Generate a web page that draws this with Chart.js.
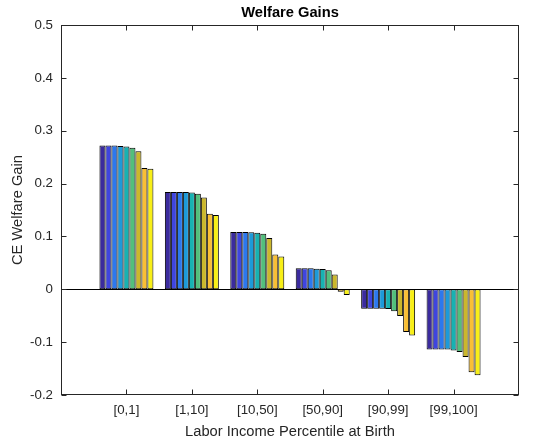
<!DOCTYPE html>
<html>
<head>
<meta charset="utf-8">
<title>Welfare Gains</title>
<script src="https://cdn.jsdelivr.net/npm/chart.js@4.4.1/dist/chart.umd.min.js"></script>
<style>
  html, body { margin: 0; padding: 0; background: #fff; }
  #chart { display: block; }
</style>
</head>
<body>
<canvas id="chart" width="534" height="443"></canvas>
<script>
// categories (income percentile bins at birth)
const categories = ['[0,1]', '[1,10]', '[10,50]', '[50,90]', '[90,99]', '[99,100]'];

// one array per bar in each group
const series1 = [0.272, 0.184, 0.1085, 0.0397, -0.037, -0.114];
const series2 = [0.272, 0.184, 0.1085, 0.0397, -0.037, -0.114];
const series3 = [0.272, 0.184, 0.1085, 0.0397, -0.037, -0.114];
const series4 = [0.271, 0.184, 0.108, 0.039, -0.037, -0.114];
const series5 = [0.270, 0.183, 0.107, 0.0385, -0.0375, -0.116];
const series6 = [0.268, 0.181, 0.105, 0.036, -0.0416, -0.1186];
const series7 = [0.261, 0.1735, 0.097, 0.028, -0.0505, -0.128];
const series8 = [0.2295, 0.143, 0.066, -0.0045, -0.0807, -0.157];
const series9 = [0.228, 0.1406, 0.062, -0.011, -0.0876, -0.1627];

const yTicks = [-0.2, -0.1, 0, 0.1, 0.2, 0.3, 0.4, 0.5];

// parula-like colours
const barColors = ['#3b2b9e', '#3f45df', '#2c78ee', '#1d9ad9', '#17b2b2', '#52bf7c', '#cbb72c', '#f9bf35', '#f8ef17'];

const allSeries = [series1, series2, series3, series4, series5, series6, series7, series8, series9];

const axisColor = '#262626';
const fontFamily = '"Liberation Sans", Arial, Helvetica, sans-serif';

// draws the MATLAB style box, inward ticks and the zero baseline
const matlabAxes = {
    id: 'matlabAxes',
    afterDatasetsDraw(chart) {
        const { ctx, chartArea: a, scales: { x, y } } = chart;
        ctx.save();
        ctx.lineWidth = 1;

        // baseline
        const y0 = Math.round(y.getPixelForValue(0)) + 0.5;
        ctx.strokeStyle = '#000';
        ctx.beginPath();
        ctx.moveTo(a.left, y0);
        ctx.lineTo(a.right, y0);
        ctx.stroke();

        ctx.strokeStyle = axisColor;
        const l = Math.round(a.left) + 0.5, r = Math.round(a.right) - 0.5;
        const t = Math.round(a.top) + 0.5, b = Math.round(a.bottom) - 0.5;
        ctx.strokeRect(l, t, r - l, b - t);

        const len = 5;
        ctx.beginPath();
        x.ticks.forEach(tk => {
            const px = Math.round(x.getPixelForValue(tk.value)) + 0.5;
            ctx.moveTo(px, b); ctx.lineTo(px, b - len);
            ctx.moveTo(px, t); ctx.lineTo(px, t + len);
        });
        y.ticks.forEach(tk => {
            const py = Math.round(y.getPixelForValue(tk.value)) + 0.5;
            ctx.moveTo(l, py); ctx.lineTo(l + len, py);
            ctx.moveTo(r, py); ctx.lineTo(r - len, py);
        });
        ctx.stroke();
        ctx.restore();
    }
};

const ctx = document.getElementById('chart').getContext('2d');

new Chart(ctx, {
    type: 'bar',
    data: {
        datasets: allSeries.map((s, i) => ({
            label: 'Series ' + (i + 1),
            data: s.map((v, j) => ({ x: j + 1, y: v })),
            backgroundColor: barColors[i],
            borderColor: '#000',
            borderWidth: 1,
            borderSkipped: false,
            categoryPercentage: 0.825,
            barPercentage: 1
        }))
    },
    options: {
        responsive: false,
        animation: false,
        layout: {
            padding: { left: 0, right: 15, top: 0, bottom: 0 }
        },
        scales: {
            x: {
                type: 'linear',
                min: 0,
                max: 7,
                offset: false,
                grid: { display: false, drawTicks: false },
                border: { display: false },
                afterBuildTicks: (scale) => {
                    scale.ticks = categories.map((c, i) => ({ value: i + 1 }));
                },
                afterFit: (scale) => { scale.height = 48; },
                ticks: {
                    autoSkip: false,
                    maxRotation: 0,
                    padding: 7,
                    color: axisColor,
                    font: { family: fontFamily, size: 13.3 },
                    callback: (value) => categories[value - 1]
                },
                title: {
                    display: true,
                    text: 'Labor Income Percentile at Birth',
                    color: axisColor,
                    font: { family: fontFamily, size: 14.7 },
                    padding: { top: 0, bottom: 2 }
                }
            },
            y: {
                min: -0.2,
                max: 0.5,
                grid: { display: false, drawTicks: false },
                border: { display: false },
                afterBuildTicks: (scale) => {
                    scale.ticks = yTicks.map(v => ({ value: v }));
                },
                afterFit: (scale) => { scale.width = 61; },
                ticks: {
                    padding: 8,
                    color: axisColor,
                    font: { family: fontFamily, size: 13.3 },
                    callback: (value) => value === 0 ? '0' : value.toFixed(1)
                },
                title: {
                    display: true,
                    text: 'CE Welfare Gain',
                    color: axisColor,
                    font: { family: fontFamily, size: 14.7 },
                    padding: { top: 9, bottom: 0 }
                }
            }
        },
        plugins: {
            legend: { display: false },
            tooltip: { enabled: false },
            title: {
                display: true,
                text: 'Welfare Gains',
                fullSize: false,
                color: '#000',
                font: { family: fontFamily, size: 14.7, weight: 'bold' },
                padding: { top: 4, bottom: 3.4 }
            }
        }
    },
    plugins: [matlabAxes]
});
</script>
</body>
</html>
